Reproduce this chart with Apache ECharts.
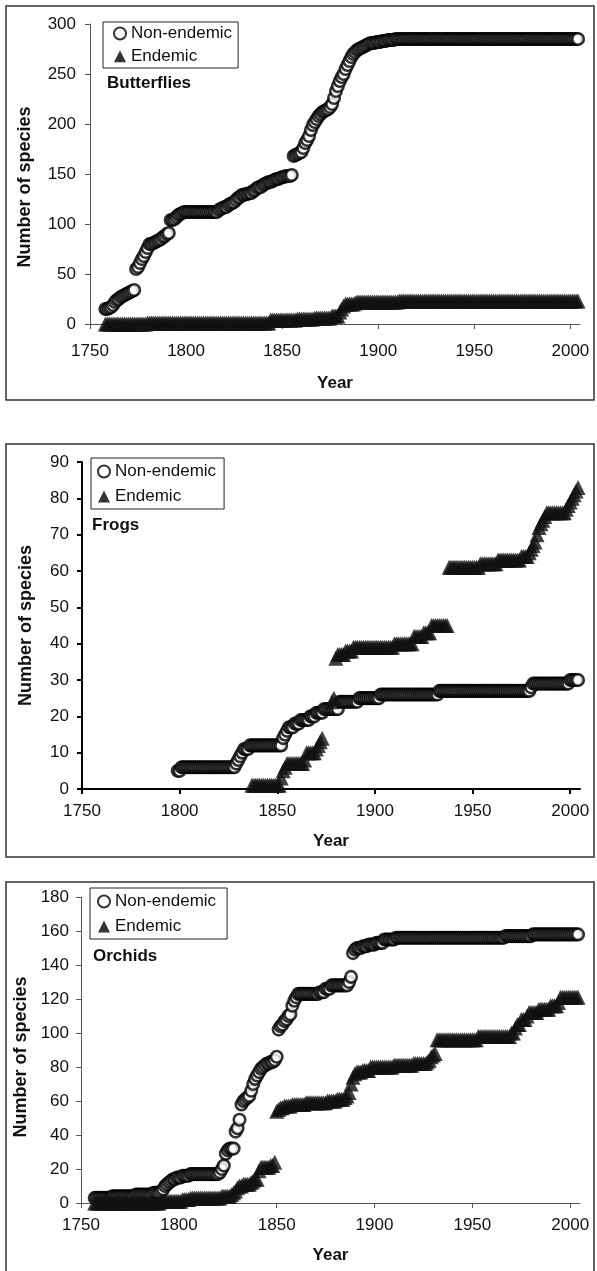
<!DOCTYPE html>
<html><head><meta charset="utf-8">
<script src="https://cdn.jsdelivr.net/npm/echarts@6/dist/echarts.min.js"></script>
<style>html,body{margin:0;padding:0;background:#fff}#c{width:597px;height:1271px}</style>
</head><body><div id="c"></div><script>
// ---------- DATA (one value per year, from the start year) ----------
const yearTicks = [1750, 1800, 1850, 1900, 1950, 2000];

const butterflyNonStart = 1758;
const butterflyNon = [
 15,15,16,17,19,22,24,25,27,28,
 29,30,31,32,33,34,55,57,61,65,
 68,72,76,80,80,81,82,83,84,85,
 87,88,90,91,104,104,105,107,109,110,
 111,112,112,112,112,112,112,112,112,112,
 112,112,112,112,112,112,112,112,112,114,
 115,116,117,117,119,120,121,122,124,126,
 127,129,129,130,130,131,131,133,134,136,
 137,137,139,140,141,142,142,143,144,145,
 145,146,147,147,148,148,148,149,168,169,
 170,171,172,176,181,184,188,194,199,202,
 205,208,210,212,213,214,215,217,220,226,
 233,238,243,247,250,255,259,263,267,270,
 272,274,275,276,277,278,279,280,281,281,
 281,282,282,282,283,283,283,284,284,284,
 284,285,285,285,285,285,285,285,285,285,
 285,285,285,285,285,285,285,285,285,285,
 285,285,285,285,285,285,285,285,285,285,
 285,285,285,285,285,285,285,285,285,285,
 285,285,285,285,285,285,285,285,285,285,
 285,285,285,285,285,285,285,285,285,285,
 285,285,285,285,285,285,285,285,285,285,
 285,285,285,285,285,285,285,285,285,285,
 285,285,285,285,285,285,285,285,285,285,
 285,285,285,285,285,285,285
];
const butterflyEndStart = 1758;
const butterflyEnd = [
 0,0,0,0,0,0,0,0,0,0,
 0,0,0,0,0,0,0,0,0,0,
 0,0,1,1,1,1,1,1,1,1,
 1,1,1,1,1,1,1,1,1,1,
 1,1,1,1,1,1,1,1,1,1,
 1,1,1,1,1,1,1,1,1,1,
 1,1,1,1,1,1,1,1,1,1,
 1,1,1,1,1,1,1,1,1,1,
 1,1,1,1,1,1,4,4,4,4,
 4,4,4,4,4,4,4,4,4,4,
 5,5,5,5,5,5,5,5,5,6,
 6,6,6,6,6,6,6,6,8,8,
 8,8,12,15,18,20,20,20,20,20,
 21,22,22,22,22,22,22,22,22,22,
 22,22,22,22,22,22,22,22,22,22,
 22,22,22,23,23,23,23,23,23,23,
 23,23,23,23,23,23,23,23,23,23,
 23,23,23,23,23,23,23,23,23,23,
 23,23,23,23,23,23,23,23,23,23,
 23,23,23,23,23,23,23,23,23,23,
 23,23,23,23,23,23,23,23,23,23,
 23,23,23,23,23,23,23,23,23,23,
 23,23,23,23,23,23,23,23,23,23,
 23,23,23,23,23,23,23,23,23,23,
 23,23,23,23,23,23,23
];

const frogNonStart = 1799;
const frogNon = [
 5,5,6,6,6,6,6,6,6,6,
 6,6,6,6,6,6,6,6,6,6,
 6,6,6,6,6,6,6,6,6,6,
 7,8,9,10,11,11,11,12,12,12,
 12,12,12,12,12,12,12,12,12,12,
 12,12,12,12,14,15,16,17,17,17,
 18,18,18,19,19,19,19,19,20,20,
 20,21,21,21,21,22,22,22,22,22,
 22,22,22,24,24,24,24,24,24,24,
 24,24,24,25,25,25,25,25,25,25,
 25,25,25,25,26,26,26,26,26,26,
 26,26,26,26,26,26,26,26,26,26,
 26,26,26,26,26,26,26,26,26,26,
 26,26,26,26,27,27,27,27,27,27,
 27,27,27,27,27,27,27,27,27,27,
 27,27,27,27,27,27,27,27,27,27,
 27,27,27,27,27,27,27,27,27,27,
 27,27,27,27,27,27,27,27,27,27,
 27,28,29,29,29,29,29,29,29,29,
 29,29,29,29,29,29,29,29,29,29,
 29,30,30,30,30,30
];
const frogEndStart = 1837;
const frogEnd = [
 1,1,1,1,1,1,1,1,1,1,
 1,1,1,1,1,3,5,6,7,7,
 7,7,7,7,7,7,7,8,10,10,
 10,10,10,11,12,13,14,null,null,null,
 null,24,25,36,37,37,37,37,38,38,
 38,38,39,39,39,39,39,39,39,39,
 39,39,39,39,39,39,39,39,39,39,
 39,39,39,40,40,40,40,40,40,40,
 40,40,40,42,42,42,42,42,43,43,
 43,43,45,45,45,45,45,45,45,45,
 45,61,61,61,61,61,61,61,61,61,
 61,61,61,61,61,61,61,62,62,62,
 62,62,62,62,62,62,63,63,63,63,
 63,63,63,63,63,63,63,63,64,64,
 64,64,65,66,67,68,70,72,73,74,
 75,76,76,76,76,76,76,76,76,76,
 76,77,78,79,80,81,82,83
];

const orchidNonStart = 1757;
const orchidNon = [
 3,3,3,3,3,3,3,3,3,4,
 4,4,4,4,4,4,4,4,4,4,
 4,5,5,5,5,5,5,5,5,5,
 6,6,6,6,7,8,10,11,12,13,
 14,14,15,15,15,16,16,16,16,17,
 17,17,17,17,17,17,17,17,17,17,
 17,17,17,17,18,20,22,29,31,32,
 32,32,42,44,49,58,60,61,62,63,
 66,70,73,75,77,79,80,81,82,82,
 83,83,84,86,102,104,105,107,108,110,
 111,116,119,121,123,123,123,123,123,123,
 123,123,123,123,123,124,124,124,126,126,
 126,128,128,128,128,128,128,128,128,128,
 130,133,147,149,150,150,150,151,151,151,
 152,152,152,152,153,153,153,153,155,155,
 155,155,155,155,156,156,156,156,156,156,
 156,156,156,156,156,156,156,156,156,156,
 156,156,156,156,156,156,156,156,156,156,
 156,156,156,156,156,156,156,156,156,156,
 156,156,156,156,156,156,156,156,156,156,
 156,156,156,156,156,156,156,156,156,156,
 157,157,157,157,157,157,157,157,157,157,
 157,157,157,157,158,158,158,158,158,158,
 158,158,158,158,158,158,158,158,158,158,
 158,158,158,158,158,158,158,158
];
const orchidEndStart = 1757;
const orchidEnd = [
 0,0,0,0,0,0,0,0,0,0,
 0,0,0,0,0,0,0,0,0,0,
 0,0,0,0,0,0,0,0,0,0,
 0,0,0,0,1,1,1,1,1,1,
 1,1,1,1,1,2,2,2,2,3,
 3,3,3,3,3,3,3,3,3,3,
 3,3,3,3,3,4,4,4,4,4,
 5,6,7,9,10,10,11,11,11,11,
 12,13,14,14,19,21,21,21,21,21,
 22,22,24,54,55,56,56,57,57,57,
 57,58,58,58,58,58,58,58,59,59,
 59,59,59,59,59,59,59,59,59,60,
 60,60,60,60,61,61,61,61,62,63,
 65,70,74,76,77,77,77,78,78,78,
 78,80,80,80,80,80,80,80,80,80,
 80,80,80,81,81,81,81,81,81,81,
 81,81,81,82,82,82,82,82,82,82,
 83,84,86,87,88,96,96,96,96,96,
 96,96,96,96,96,96,96,96,96,96,
 96,96,96,96,96,96,98,98,98,98,
 98,98,98,98,98,98,98,98,98,98,
 98,98,98,100,100,103,105,105,108,108,
 108,110,112,112,112,112,112,114,114,114,
 114,114,114,116,116,116,116,118,121,121,
 121,121,121,121,121,121,121,121
];

const panelNames = ['Butterflies', 'Frogs', 'Orchids'];
const yMaxes = [300, 90, 180];
const yIntervals = [50, 10, 20];

// ---------- CHART ----------
const FONT = '"Liberation Sans", Arial, Helvetica, sans-serif';
const toPts = (start, vals) => vals.map((v, i) => v == null ? null : [start + i, v]).filter(p => p);

const grids = [
  {left: 90, top: 24, width: 490, height: 300},
  {left: 82, top: 462, width: 498, height: 327},
  {left: 81, top: 897, width: 499, height: 306}
];
const axisStyle = [
  {color: '#555', width: 1}, {color: '#000', width: 2}, {color: '#555', width: 1}
];
const xLabelMargin = [19, 14, 14];
const yLabelMargin = [14, 13, 12];
const yNameGap = [56, 47, 46];
const yNamePad = [[0, 26, 0, 0], [0, 0, 0, 0], [0, 14, 0, 0]];
const xNameGap = [51, 44, 44];

const xAxes = grids.map((g, i) => ({
  type: 'value', gridIndex: i, min: 1750, max: 2005, interval: 50,
  name: 'Year', nameLocation: 'middle', nameGap: xNameGap[i],
  nameTextStyle: {fontFamily: FONT, fontSize: 17, fontWeight: 'bold', color: '#111'},
  axisLine: {show: true, onZero: false, lineStyle: axisStyle[i]},
  axisTick: {show: true, inside: false, length: 5, lineStyle: axisStyle[i], customValues: yearTicks},
  axisLabel: {fontFamily: FONT, fontSize: 17, color: '#111', margin: xLabelMargin[i],
    customValues: yearTicks, formatter: v => String(v)},
  splitLine: {show: false}
}));
const yAxes = grids.map((g, i) => ({
  type: 'value', gridIndex: i, min: 0, max: yMaxes[i], interval: yIntervals[i],
  name: 'Number of species', nameLocation: 'middle', nameGap: yNameGap[i],
  nameTextStyle: {fontFamily: FONT, fontSize: 18, fontWeight: 'bold', color: '#111', padding: yNamePad[i]},
  axisLine: {show: true, lineStyle: axisStyle[i]},
  axisTick: {show: true, inside: false, length: 5, lineStyle: axisStyle[i]},
  axisLabel: {fontFamily: FONT, fontSize: 17, color: '#111', margin: yLabelMargin[i], formatter: v => String(v)},
  splitLine: {show: false}
}));

const nonStyle = {color: '#fff', borderColor: '#000', borderWidth: 2.6};
const endStyle = {color: '#111'};
const seriesSets = [
  [toPts(butterflyNonStart, butterflyNon), toPts(butterflyEndStart, butterflyEnd)],
  [toPts(frogNonStart, frogNon), toPts(frogEndStart, frogEnd)],
  [toPts(orchidNonStart, orchidNon), toPts(orchidEndStart, orchidEnd)]
];
const series = [];
seriesSets.forEach((s, i) => {
  series.push({type: 'scatter', name: 'Non-endemic', xAxisIndex: i, yAxisIndex: i, data: s[0],
    symbol: 'circle', symbolSize: 11.5, itemStyle: nonStyle, clip: false, silent: true});
  series.push({type: 'scatter', name: 'Endemic', xAxisIndex: i, yAxisIndex: i, data: s[1],
    symbol: 'triangle', symbolSize: 15, itemStyle: endStyle, clip: false, silent: true});
});

const legendPos = [
  {left: 103, top: 22, itemGap: 5.7, padding: [3, 6, 3.3, 10]},
  {left: 91, top: 458, itemGap: 8, padding: [5, 8, 4, 6]},
  {left: 90, top: 888, itemGap: 8, padding: [5, 11, 4, 7]}
];
const legends = legendPos.map(p => Object.assign({
  orient: 'vertical', itemWidth: 12, itemHeight: 12, selectedMode: false,
  borderColor: '#222', borderWidth: 1, backgroundColor: '#fff',
  textStyle: {fontFamily: FONT, fontSize: 17, color: '#111'},
  data: [
    {name: 'Non-endemic', icon: 'circle', itemStyle: {color: '#fff', borderColor: '#000', borderWidth: 2}},
    {name: 'Endemic', icon: 'triangle', itemStyle: {color: '#000', borderWidth: 0}}
  ]
}, p));

const titlePos = [{left: 107, top: 75}, {left: 92, top: 517}, {left: 93, top: 948}];
const titles = titlePos.map((p, i) => Object.assign({
  text: panelNames[i], padding: 0,
  textStyle: {fontFamily: FONT, fontSize: 17, fontWeight: 'bold', color: '#111'}
}, p));

const boxes = [[6, 6, 588, 394], [6, 444, 588, 413], [6, 882, 588, 400]].map(b => ({
  type: 'rect', silent: true, z: -1,
  shape: {x: b[0], y: b[1], width: b[2], height: b[3]},
  style: {fill: 'none', stroke: '#333', lineWidth: 1.5}
}));

const chart = echarts.init(document.getElementById('c'), null, {renderer: 'canvas'});
chart.setOption({
  animation: false,
  backgroundColor: '#fff',
  title: titles,
  legend: legends,
  grid: grids,
  xAxis: xAxes,
  yAxis: yAxes,
  series: series,
  graphic: boxes
});
</script></body></html>
